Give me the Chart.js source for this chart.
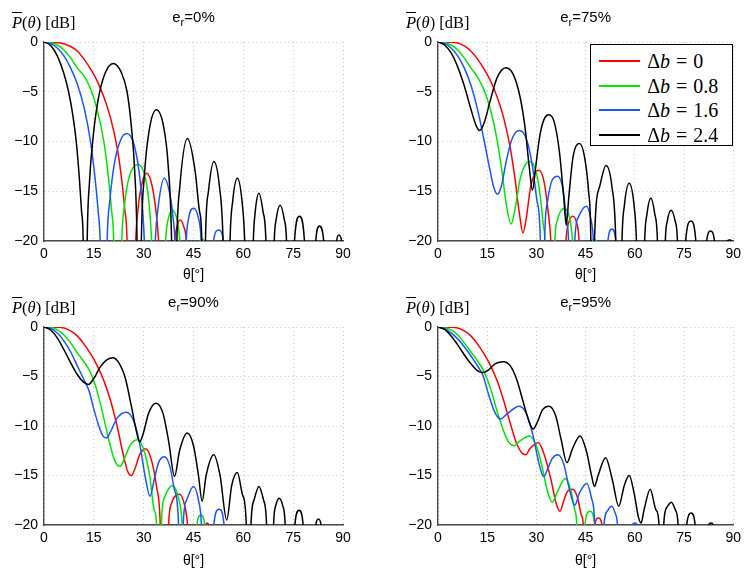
<!DOCTYPE html>
<html>
<head>
<meta charset="utf-8">
<script src="https://cdn.jsdelivr.net/npm/chart.js@4.4.1/dist/chart.umd.min.js"></script>
<style>
  body { margin: 0; background: #fff; }
  #wrap { position: relative; width: 746px; height: 570px; overflow: hidden; font-family: "Liberation Sans", Arial, sans-serif; }
  #wrap canvas { position: absolute; }
  .ttl { position: absolute; font-size: 15px; line-height: 15px; color: #000; transform: translateX(-50%); white-space: nowrap; }
  .ttl sub { font-size: 11px; vertical-align: -4px; line-height: 0; }
  .ylab { position: absolute; font-family: "Liberation Serif", "Times New Roman", serif; font-size: 16.5px; line-height: 16px; color: #000; white-space: nowrap; }
  .ylab .bar { text-decoration: overline; }
  .lg { position: absolute; background: #fff; border: 1px solid #000; box-sizing: border-box; }
  .lgrow { position: absolute; left: 0; right: 0; height: 24px; }
  .lgrow .sw { position: absolute; left: 8px; top: 11px; width: 41px; height: 2px; }
  .lgrow .lt { position: absolute; left: 56px; top: 0; line-height: 24px; font-family: "Liberation Serif", "Times New Roman", serif; font-size: 20px; word-spacing: 1px; white-space: nowrap; color: #000; }
</style>
</head>
<body>
<div id="wrap"></div>
<script>
// ---- data ----
const xTickVals = [0, 15, 30, 45, 60, 75, 90];
const yTickVals = [-20, -15, -10, -5, 0];
const erLabels = ['0%', '75%', '90%', '95%'];
const deltaB = ['0', '0.8', '1.6', '2.4'];
const lineColors = ['#ff0000', '#00e600', '#1a55ff', '#000000'];

// e_r = 0%
const e00_b0 = [[0,0],[5,-0.1],[8,-0.45],[10,-0.9],[12,-1.7],[14,-2.7],[16,-3.9],[18,-5.5],[20,-7.6],[22,-10.6],[23.3,-13.6],[24.3,-16.8],[25,-20],[26,-40],[27.6,-20],[28.4,-16.5],[29.5,-14.2],[30.9,-13.2],[32.5,-14.4],[33.7,-17],[34.5,-20],[37,-40],[39.4,-20],[40.1,-18.5],[41,-17.9],[42,-18.5],[42.8,-20],[45,-40]];
const e00_b08 = [[0,0],[2,-0.05],[4,-0.3],[6,-0.8],[8,-1.6],[10,-2.6],[12,-3.4],[14,-4.7],[16,-6.8],[18,-10],[19.3,-13.3],[20.3,-16.8],[21,-20],[22.2,-40],[23.4,-20],[24.2,-16.5],[25.6,-13.6],[28.2,-12.3],[30.5,-13.6],[31.7,-16.5],[32.4,-20],[34.5,-40],[36.6,-20],[37.4,-17.8],[38.7,-16.9],[40,-17.8],[40.9,-20],[44,-40],[47,-20],[47.6,-19.8],[48.2,-20],[50,-40]];
const e00_b16 = [[0,0],[2,-0.15],[4,-0.6],[6,-1.4],[8,-2.6],[10,-4.2],[12,-6.5],[14,-10],[15.4,-13.8],[16.3,-17],[16.9,-20],[18,-40],[19,-20],[19.8,-16],[21.2,-12.2],[23,-9.9],[24.9,-9.2],[27,-10.2],[28.6,-13],[29.6,-16.5],[30.2,-20],[31.8,-40],[33.5,-20],[34.4,-16.5],[36.2,-13.7],[38,-15.5],[38.8,-17.5],[39.4,-20],[41,-40],[42.8,-20],[43.6,-17.6],[45,-16.7],[46.4,-17.6],[47.3,-20],[49,-40],[51,-20],[52.6,-18.9],[54,-20],[56,-40]];
const e00_b24 = [[0,0],[2,-0.35],[4,-1.4],[6,-3.2],[7.4,-5],[8.6,-7.2],[9.7,-10],[10.6,-13.5],[11.3,-17],[11.8,-20],[12.4,-40],[13,-20],[13.7,-14],[14.8,-9.5],[16.2,-6],[18.2,-3.3],[20.8,-2.15],[23.2,-3],[25,-5],[26.3,-8.5],[27.3,-13],[28,-20],[28.6,-40],[29.3,-20],[30.2,-13.5],[31.6,-9],[33.8,-6.8],[36,-8.5],[37.4,-12.5],[38.4,-20],[39.2,-40],[40,-20],[40.9,-14.5],[43.2,-9.7],[45.5,-13],[46.8,-17],[47.5,-20],[48,-40],[48.6,-20],[49.5,-15],[51.1,-12],[52.8,-14.5],[53.9,-20],[55,-40],[56,-20],[56.8,-16],[58.2,-13.7],[59.6,-16],[60.4,-20],[61.7,-40],[63,-20],[63.6,-17],[64.7,-15.2],[65.9,-17],[66.8,-20],[68,-40],[69.3,-20],[69.9,-17.8],[71.1,-16.4],[72.3,-17.8],[73,-20],[74.2,-40],[75.4,-20],[76.9,-17.5],[78.4,-20],[80,-40],[81.8,-20],[82.9,-18.5],[84.2,-20],[86,-40],[88.1,-20],[88.7,-19.4],[89.6,-20],[90,-30]];

// e_r = 75%
const e75_b0 = [[0,0],[6,-0.1],[8,-0.4],[10,-0.9],[12,-1.7],[14,-2.7],[16,-3.9],[18,-5.5],[20,-7.6],[22,-10.6],[23.5,-13.8],[24.8,-17.2],[25.9,-19.2],[27,-17.5],[28.2,-14.6],[29.4,-13.3],[30.8,-12.9],[32.3,-14],[33.5,-16.8],[34.4,-20],[36.7,-40],[39,-20],[39.9,-18.1],[41.1,-17.5],[42.2,-18.1],[43,-20],[45,-40]];
const e75_b08 = [[0,0],[2,-0.05],[4,-0.3],[6,-0.8],[8,-1.6],[10,-2.6],[12,-3.5],[14,-4.8],[16,-6.8],[18,-9.8],[19.5,-13],[20.8,-16.3],[22.3,-18.3],[23.6,-16.6],[25,-13.8],[26.5,-12.4],[28.1,-12],[29.7,-12.8],[31,-15],[32.1,-18.4],[32.6,-20],[34,-40],[35.6,-20],[36.5,-17.8],[38.6,-16.7],[40.2,-17.8],[41,-20],[44,-40],[47,-20],[47.6,-19.8],[48.2,-20],[50,-40]];
const e75_b16 = [[0,0],[2,-0.15],[4,-0.6],[6,-1.4],[8,-2.6],[10,-4.3],[12,-6.7],[14,-9.8],[15.8,-12.8],[17,-14.6],[18.1,-15.3],[19.3,-14.5],[20.8,-12],[22.5,-9.8],[24.8,-8.9],[27,-9.8],[28.8,-12.5],[30.2,-16],[31.2,-20],[31.8,-40],[32.5,-20],[33.4,-16],[34.8,-13.9],[36.5,-13.5],[38.2,-15],[39.2,-18],[39.8,-20],[40.7,-40],[41.7,-20],[42.8,-17.6],[45.2,-16.5],[46.6,-17.8],[47.4,-20],[49.5,-40],[51.8,-20],[53,-18.8],[54.2,-20],[56,-40]];
const e75_b24 = [[0,0],[2,-0.3],[4,-1.1],[6,-2.5],[8,-4.4],[10,-6.7],[11.5,-8.3],[12.7,-8.9],[14,-8.2],[16,-5.8],[18,-3.6],[20.7,-2.6],[23,-3.3],[25,-5.5],[26.5,-8.5],[27.8,-12.5],[28.8,-14.9],[29.8,-12.5],[31,-9.5],[32.3,-7.8],[33.8,-7.3],[35.4,-8],[37,-11],[38.3,-15.5],[39.1,-18.4],[39.9,-15.5],[41.2,-11.5],[43.2,-10.2],[44.7,-11.6],[45.9,-15],[46.6,-20],[47.1,-40],[47.7,-20],[49.3,-14.5],[51.2,-12.4],[53,-14.5],[54.2,-20],[55.2,-40],[56.1,-20],[56.8,-16.5],[58.3,-14.2],[59.8,-16.5],[60.5,-20],[61.8,-40],[63,-20],[63.7,-17.3],[64.9,-15.7],[66.1,-17.3],[66.9,-20],[68,-40],[69.3,-20],[69.9,-18],[71.1,-16.9],[72.3,-18],[73,-20],[74.2,-40],[75.5,-20],[77.1,-18],[78.6,-20],[80,-40],[81.9,-20],[83.1,-19],[84.3,-20],[86,-40],[88.2,-20],[88.9,-19.9],[89.6,-20],[90,-30]];

// e_r = 90%
const e90_b0 = [[0,0],[6,-0.1],[8,-0.4],[10,-0.9],[12,-1.7],[14,-2.7],[16,-3.9],[18,-5.4],[20,-7.4],[22,-10],[23.8,-12.8],[25.2,-14.6],[26.3,-15],[27.4,-14.3],[28.8,-12.9],[30.6,-12.3],[32.3,-13.4],[33.8,-16],[35,-20],[36.3,-40],[37.5,-20],[38.4,-17.8],[40.8,-16.9],[42.3,-18],[43.2,-20],[46,-40],[48.6,-20],[49.1,-19.8],[49.6,-20],[51,-40]];
const e90_b08 = [[0,0],[2,-0.05],[4,-0.3],[6,-0.8],[8,-1.6],[10,-2.6],[12,-3.5],[14,-4.6],[16,-6.5],[18,-9.2],[19.8,-11.8],[21.3,-13.5],[22.8,-14.1],[24.2,-13.3],[26,-11.9],[28.3,-11.4],[30.2,-12.6],[31.8,-15],[33.2,-18.5],[33.9,-20],[34.6,-40],[35.3,-20],[36.3,-17.2],[38.6,-16],[40.4,-17.2],[41.6,-20],[43.8,-40],[46,-20],[47.2,-19],[48.4,-20],[50,-40]];
const e90_b16 = [[0,0],[2,-0.15],[4,-0.6],[6,-1.4],[8,-2.5],[10,-3.9],[12,-5.3],[13.5,-6.4],[15,-8.3],[16.5,-10],[17.7,-11],[18.8,-11.2],[20,-10.6],[22,-9.2],[24.8,-8.6],[27,-9.5],[28.8,-11.8],[30.5,-15.2],[31.9,-17.1],[33.3,-15.2],[34.6,-13.6],[36.3,-13.1],[38,-14.2],[39.3,-16.5],[40.5,-20],[41.2,-40],[41.9,-20],[42.9,-17.5],[45,-16.1],[46.5,-17.5],[47.4,-20],[49.3,-40],[51.1,-20],[52.7,-18.4],[54.2,-20],[56,-40]];
const e90_b24 = [[0,0],[2,-0.3],[4,-1.1],[6,-2.3],[8,-3.6],[10,-4.8],[12,-5.6],[13.4,-5.8],[15,-5.2],[17,-4],[19,-3.3],[20.7,-3.1],[22.5,-3.6],[24.5,-5.2],[26.3,-8],[27.8,-10.5],[28.8,-11.6],[30,-10.6],[31.5,-8.7],[33.7,-7.7],[35.8,-8.7],[37.5,-11.5],[39.3,-15.1],[40.8,-12.5],[43.1,-10.7],[45,-12],[46.5,-15],[47.6,-17.6],[48.8,-15],[51.1,-12.9],[53,-15],[55,-19.5],[56.5,-16],[58.2,-14.7],[59.8,-17],[60.9,-20],[61.5,-40],[62.3,-20],[63.2,-17.5],[64.7,-16.1],[66.1,-17.5],[67,-20],[68,-40],[69.1,-20],[69.8,-18],[70.8,-17.3],[71.8,-18],[72.6,-20],[74,-40],[75.5,-20],[76.8,-18.5],[78,-20],[80,-40],[81.8,-20],[82.6,-19.4],[83.4,-20],[85,-40]];

// e_r = 95%
const e95_b0 = [[0,0],[6,-0.1],[8,-0.4],[10,-0.9],[12,-1.7],[14,-2.7],[16,-3.9],[18,-5.4],[20,-7.4],[22,-9.7],[24,-11.8],[25.5,-12.7],[26.8,-12.9],[28,-12.3],[30.6,-11.7],[32.5,-13],[34.5,-15.5],[36,-17.8],[37.2,-18.6],[38.3,-17.6],[39.5,-16.6],[41,-16.4],[42.5,-17.2],[43.7,-19],[44.3,-20],[46,-40],[47.8,-20],[48.9,-19.3],[50,-20],[51,-40]];
const e95_b08 = [[0,0],[2,-0.05],[4,-0.3],[6,-0.8],[8,-1.6],[10,-2.5],[12,-3.4],[14,-4.5],[16,-6.2],[18,-8.5],[20,-10.5],[21.5,-11.6],[23.2,-12],[25,-11.5],[27.9,-11],[30,-12],[31.8,-14.2],[33.3,-16.5],[34.8,-17.7],[36.2,-16.8],[38.8,-15.3],[40.5,-16.5],[41.7,-18.5],[42.3,-20],[43.5,-40],[44.8,-20],[46.3,-18.6],[47.8,-20],[49,-40]];
const e95_b16 = [[0,0],[2,-0.15],[4,-0.6],[6,-1.2],[8,-2],[10,-2.9],[12,-3.9],[13.7,-4.9],[15.5,-6.9],[17.3,-8.6],[19,-9.3],[21,-8.8],[24.7,-8],[27,-8.8],[29,-11],[30.8,-13.8],[32.2,-15.1],[33.5,-14.3],[34.8,-13.3],[36.5,-12.9],[38.3,-13.8],[40,-16.3],[41.7,-18],[43.2,-16.7],[45.4,-15.8],[46.8,-17.3],[47.8,-20],[49,-40],[50.6,-20],[51.6,-18.6],[52.9,-18.1],[54,-18.8],[54.7,-20],[57,-40],[59.2,-20],[60,-19.8],[60.8,-20],[62,-40]];
const e95_b24 = [[0,0],[2,-0.25],[4,-0.9],[6,-1.8],[8,-2.8],[10,-3.7],[12,-4.4],[13.7,-4.6],[15.5,-4.3],[17.5,-3.7],[20,-3.5],[22,-3.9],[24,-5.3],[26,-7.6],[27.8,-9.6],[29,-10.3],[30.3,-9.6],[31.8,-8.4],[33.8,-8],[35.8,-8.9],[37.5,-11.3],[39.3,-13.7],[41,-12.3],[43.3,-11],[45.3,-12.6],[46.8,-15],[47.7,-16.1],[48.8,-15],[51.1,-13.2],[53.2,-15.5],[55.1,-18.1],[56.8,-16],[58.3,-15],[59.8,-16.8],[61.1,-19.2],[61.9,-19.8],[62.8,-18.5],[64.7,-16.4],[66.5,-18.5],[67.4,-20],[68,-40],[68.8,-20],[69.8,-18.2],[71.1,-17.7],[72.4,-18.5],[73.2,-20],[74.5,-40],[75.8,-20],[77.2,-18.8],[78.4,-20],[80,-40],[82.5,-20],[83.2,-19.8],[83.9,-20],[85,-40]];

// ---- layout ----
const SANS = '"Liberation Sans", Arial, sans-serif';
const Y_AXIS_W = 44;
const PLOT_TOP = 42;

const panels = [
  { x: 0,   y: 0,   w: 373, h: 285, padRight: 30, xAxisH: 44, titlePad: 1, er: erLabels[0], series: [e00_b0, e00_b08, e00_b16, e00_b24] },
  { x: 394, y: 0,   w: 352, h: 285, padRight: 10, xAxisH: 44, titlePad: 1, er: erLabels[1], series: [e75_b0, e75_b08, e75_b16, e75_b24], legend: true },
  { x: 0,   y: 285, w: 373, h: 285, padRight: 30, xAxisH: 45, titlePad: 0, er: erLabels[2], series: [e90_b0, e90_b08, e90_b16, e90_b24] },
  { x: 394, y: 285, w: 352, h: 285, padRight: 10, xAxisH: 45, titlePad: 0, er: erLabels[3], series: [e95_b0, e95_b08, e95_b16, e95_b24] }
];

const wrap = document.getElementById('wrap');

function fmtTick(v) {
  return v < 0 ? '\u2212' + Math.abs(v) : String(v);
}

function makePanel(p) {
  const cv = document.createElement('canvas');
  cv.width = p.w;
  cv.height = p.h;
  cv.style.left = p.x + 'px';
  cv.style.top = p.y + 'px';
  wrap.appendChild(cv);

  const datasets = p.series.map((s, i) => ({
    label: 'Δb = ' + deltaB[i],
    data: s,
    borderColor: lineColors[i],
    backgroundColor: lineColors[i],
    order: 3 - i
  }));

  const gridStyle = { color: '#c4c4c4', lineWidth: 1, drawTicks: false };
  const borderStyle = { display: true, color: '#4a4a4a', width: 1.4, dash: [1, 3] };
  const tickFont = { family: SANS, size: 14 };

  const chart = new Chart(cv, {
    type: 'line',
    data: { datasets },
    options: {
      responsive: false,
      animation: false,
      devicePixelRatio: 1,
      layout: { padding: { left: 0, top: PLOT_TOP, right: p.padRight, bottom: 0 } },
      plugins: { legend: { display: false }, tooltip: { enabled: false }, title: { display: false } },
      elements: {
        point: { radius: 0, hoverRadius: 0 },
        line: { borderWidth: 1.5, cubicInterpolationMode: 'monotone', capBezierPoints: false }
      },
      scales: {
        x: {
          type: 'linear', min: 0, max: 90,
          afterBuildTicks: s => { s.ticks = xTickVals.map(v => ({ value: v })); },
          afterFit: s => { s.height = p.xAxisH; },
          grid: gridStyle,
          border: borderStyle,
          ticks: { color: '#000', font: tickFont, padding: 5, maxRotation: 0 },
          title: { display: true, text: 'θ[°]', color: '#000', font: { family: SANS, size: 14 }, padding: { top: 0, bottom: p.titlePad } }
        },
        y: {
          type: 'linear', min: -20, max: 0,
          afterBuildTicks: s => { s.ticks = yTickVals.map(v => ({ value: v })); },
          afterFit: s => { s.width = Y_AXIS_W; },
          grid: gridStyle,
          border: borderStyle,
          ticks: { color: '#000', font: tickFont, padding: 6, callback: fmtTick }
        }
      }
    }
  });

  // title and y label as text overlays (subscript / serif maths)
  const area = chart.chartArea;
  const t = document.createElement('div');
  t.className = 'ttl';
  t.innerHTML = 'e<sub>r</sub>=' + p.er;
  t.style.left = (p.x + (area.left + area.right) / 2) + 'px';
  t.style.top = (p.y + 9) + 'px';
  wrap.appendChild(t);

  const yl = document.createElement('div');
  yl.className = 'ylab';
  yl.innerHTML = '<i class="bar">P</i>(<i>θ</i>) [dB]';
  yl.style.left = (p.x + 12) + 'px';
  yl.style.top = (p.y + 15) + 'px';
  wrap.appendChild(yl);

  if (p.legend) buildLegend(chart, p.x + area.right - 143, p.y + area.top + 2);
  return chart;
}

function buildLegend(chart, left, top) {
  const box = document.createElement('div');
  box.className = 'lg';
  box.style.left = left + 'px';
  box.style.top = top + 'px';
  box.style.width = '143px';
  box.style.height = '102px';
  chart.data.datasets.forEach((ds, i) => {
    const row = document.createElement('div');
    row.className = 'lgrow';
    row.style.top = (4 + i * 24.7) + 'px';
    row.innerHTML = '<span class="sw" style="background:' + ds.borderColor + '"></span>' +
      '<span class="lt">Δ<i>b</i> = ' + deltaB[i] + '</span>';
    box.appendChild(row);
  });
  wrap.appendChild(box);
}

panels.forEach(makePanel);
</script>
</body>
</html>
